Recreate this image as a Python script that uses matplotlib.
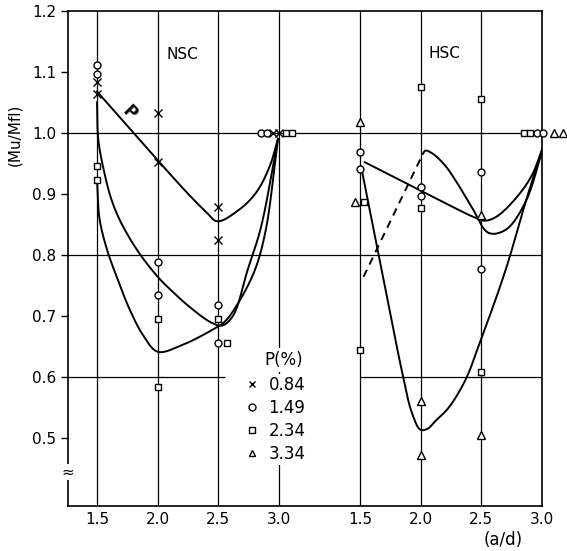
import numpy as np
import matplotlib
matplotlib.use('Agg')
import matplotlib.pyplot as plt
from matplotlib.lines import Line2D

# HSC panel sits to the right of the NSC panel on the same axis
hsc_shift = 2.165

ad_ticks = [1.5, 2.0, 2.5, 3.0]
ad_labels = ['1.5', '2.0', '2.5', '3.0']
mu_ticks = [0.5, 0.6, 0.7, 0.8, 0.9, 1.0, 1.1, 1.2]

ratios = ['0.84', '1.49', '2.34', '3.34']
markers = ['x', 'o', 's', '^']

# test points, NSC beams
nsc_ad_084 = [1.5, 1.5, 2.0, 2.0, 2.5, 2.5, 2.95, 3.0]
nsc_mu_084 = [1.084, 1.064, 1.033, 0.952, 0.879, 0.825, 1.0, 1.0]
nsc_ad_149 = [1.5, 1.5, 2.0, 2.0, 2.5, 2.5, 2.85, 2.90]
nsc_mu_149 = [1.111, 1.097, 0.789, 0.734, 0.718, 0.656, 1.0, 1.0]
nsc_ad_234 = [1.5, 1.5, 2.0, 2.0, 2.5, 2.57, 3.055, 3.105]
nsc_mu_234 = [0.946, 0.923, 0.695, 0.584, 0.695, 0.656, 1.0, 1.0]

# test points, HSC beams
hsc_ad_149 = [1.5, 1.5, 2.0, 2.0, 2.5, 2.5, 2.96, 3.01]
hsc_mu_149 = [0.969, 0.941, 0.911, 0.897, 0.936, 0.777, 1.0, 1.0]
hsc_ad_234 = [1.533, 1.5, 2.0, 2.0, 2.5, 2.5, 2.855, 2.905]
hsc_mu_234 = [0.887, 0.644, 1.075, 0.877, 1.056, 0.608, 1.0, 1.0]
hsc_ad_334 = [1.5, 1.46, 2.0, 2.0, 2.5, 2.5, 3.10, 3.17]
hsc_mu_334 = [1.018, 0.887, 0.561, 0.472, 0.866, 0.505, 1.0, 1.0]

# hand drawn trend curves
nsc_fit_084_ad = [1.5, 2.0, 2.26, 2.40, 2.49, 2.67, 2.81, 2.92, 2.99]
nsc_fit_084_mu = [1.068, 0.955, 0.898, 0.870, 0.855, 0.874, 0.902, 0.944, 0.99]
nsc_fit_149_ad = [1.5, 1.51, 1.56, 1.62, 1.70, 1.84, 2.0, 2.12, 2.26, 2.44, 2.53, 2.62, 2.74, 2.85, 2.99]
nsc_fit_149_mu = [1.05, 0.99, 0.935, 0.89, 0.852, 0.805, 0.764, 0.740, 0.715, 0.689, 0.684, 0.70, 0.775, 0.845, 0.99]
nsc_fit_234_ad = [1.5, 1.52, 1.58, 1.66, 1.77, 1.88, 2.0, 2.2, 2.45, 2.55, 2.66, 2.80, 2.89, 2.99]
nsc_fit_234_mu = [0.923, 0.86, 0.81, 0.765, 0.71, 0.668, 0.641, 0.652, 0.677, 0.69, 0.72, 0.775, 0.841, 0.99]

hsc_fit_a_ad = [1.54, 2.23, 2.45, 2.53, 2.62, 2.75, 2.91, 3.03]
hsc_fit_a_mu = [0.952, 0.882, 0.861, 0.856, 0.862, 0.885, 0.928, 0.99]
hsc_fit_b_ad = [2.02, 2.04, 2.10, 2.20, 2.285, 2.42, 2.56, 2.70, 2.86, 3.03]
hsc_fit_b_mu = [0.966, 0.971, 0.966, 0.947, 0.923, 0.879, 0.836, 0.841, 0.885, 0.99]
hsc_fit_c_ad = [1.51, 1.65, 1.73, 1.84, 1.93, 2.0, 2.06, 2.12, 2.23, 2.37, 2.475, 2.70, 2.87, 3.03]
hsc_fit_c_mu = [0.945, 0.805, 0.725, 0.615, 0.54, 0.513, 0.515, 0.527, 0.549, 0.595, 0.649, 0.775, 0.89, 0.99]
hsc_dash_ad = [1.53, 2.02]
hsc_dash_mu = [0.764, 0.966]


def smooth(xs, ys, n=30):
    # centripetal catmull-rom through the read points (y scaled so both axes ~ same px)
    p = np.column_stack([xs, np.array(ys) * 5.0])
    p = np.vstack([2 * p[0] - p[1], p, 2 * p[-1] - p[-2]])
    pts = []
    for i in range(1, len(p) - 2):
        p0, p1, p2, p3 = p[i - 1], p[i], p[i + 1], p[i + 2]
        t0 = 0.0
        t1 = t0 + np.linalg.norm(p1 - p0) ** 0.5
        t2 = t1 + np.linalg.norm(p2 - p1) ** 0.5
        t3 = t2 + np.linalg.norm(p3 - p2) ** 0.5
        t = np.linspace(t1, t2, n)[:, None]
        a1 = (t1 - t) / (t1 - t0) * p0 + (t - t0) / (t1 - t0) * p1
        a2 = (t2 - t) / (t2 - t1) * p1 + (t - t1) / (t2 - t1) * p2
        a3 = (t3 - t) / (t3 - t2) * p2 + (t - t2) / (t3 - t2) * p3
        b1 = (t2 - t) / (t2 - t0) * a1 + (t - t0) / (t2 - t0) * a2
        b2 = (t3 - t) / (t3 - t1) * a2 + (t - t1) / (t3 - t1) * a3
        c = (t2 - t) / (t2 - t1) * b1 + (t - t1) / (t2 - t1) * b2
        pts.append(c)
    pts = np.vstack(pts)
    return pts[:, 0], pts[:, 1] / 5.0


plt.rcParams['font.family'] = ['DejaVu Sans']

fig = plt.figure(figsize=(5.67, 5.51), dpi=100)
ax = fig.add_axes([68 / 567, 45 / 551, 474 / 567, 495 / 551])

x_lo = 1.261
x_hi = 3.0 + hsc_shift
ax.set_xlim(x_lo, x_hi)
ax.set_ylim(0.388, 1.2)

# grid lines drawn as in the original
for t in ad_ticks:
    ax.axvline(t, color='k', lw=0.9, zorder=1)
    ax.axvline(t + hsc_shift, color='k', lw=0.9, zorder=1)
ax.axhline(1.0, color='k', lw=0.9, zorder=1)
ax.axhline(0.8, color='k', lw=0.9, zorder=1)
ax.hlines(0.6, x_lo, 2.55, color='k', lw=0.9, zorder=1)
ax.hlines(0.6, 1.5 + hsc_shift, 3.0 + hsc_shift, color='k', lw=0.9, zorder=1)

# trend curves
for fx, fy in [(nsc_fit_084_ad, nsc_fit_084_mu), (nsc_fit_149_ad, nsc_fit_149_mu),
               (nsc_fit_234_ad, nsc_fit_234_mu)]:
    cx, cy = smooth(fx, fy)
    ax.plot(cx, cy, color='k', lw=1.4, zorder=2)
for fx, fy in [(hsc_fit_a_ad, hsc_fit_a_mu), (hsc_fit_b_ad, hsc_fit_b_mu),
               (hsc_fit_c_ad, hsc_fit_c_mu)]:
    cx, cy = smooth(fx, fy)
    ax.plot(cx + hsc_shift, cy, color='k', lw=1.4, zorder=2)
ax.plot(np.array(hsc_dash_ad) + hsc_shift, hsc_dash_mu, color='k', lw=1.4,
        ls=(0, (4, 3)), zorder=2)

# test points
mk = dict(ls='none', mec='k', mfc='white', mew=1.0, zorder=4, clip_on=False)
ax.plot(nsc_ad_084, nsc_mu_084, marker='x', ms=6, **mk)
ax.plot(nsc_ad_149, nsc_mu_149, marker='o', ms=5, **mk)
ax.plot(nsc_ad_234, nsc_mu_234, marker='s', ms=5, **mk)
ax.plot(np.array(hsc_ad_149) + hsc_shift, hsc_mu_149, marker='o', ms=5, **mk)
ax.plot(np.array(hsc_ad_234) + hsc_shift, hsc_mu_234, marker='s', ms=5, **mk)
ax.plot(np.array(hsc_ad_334) + hsc_shift, hsc_mu_334, marker='^', ms=5.5, **mk)

# axes cosmetics
ax.set_xticks(ad_ticks + [t + hsc_shift for t in ad_ticks])
ax.set_xticklabels(ad_labels + ad_labels)
ax.set_yticks(mu_ticks)
ax.set_yticklabels(['%.1f' % v for v in mu_ticks])
ax.tick_params(axis='x', length=0, pad=4, labelsize=11)
ax.tick_params(axis='y', direction='out', length=5, width=1, labelsize=11)
for s in ax.spines.values():
    s.set_linewidth(1.2)

# axis break mark on the y axis
ax.text(0, 0.444, '\u2248', transform=ax.get_yaxis_transform(), ha='center',
        va='center', fontsize=11,
        bbox=dict(facecolor='white', edgecolor='none', pad=0.3), zorder=6)

ax.text(2.2, 1.128, 'NSC', ha='center', va='center', fontsize=11)
ax.text(2.2 + hsc_shift, 1.131, 'HSC', ha='center', va='center', fontsize=11)
ax.text(1.77, 1.033, 'P', ha='center', va='center', fontsize=12,
        fontweight='bold', rotation=-45)

fig.text(15 / 567, 1 - 135 / 551, '(Mu/Mfl)', rotation=90, ha='center',
         va='center', fontsize=11)
fig.text(503 / 567, 1 - 540 / 551, '(a/d)', ha='center', va='center', fontsize=12)

# legend
handles = [Line2D([], [], ls='none', marker=m, ms=5, mec='k', mfc='white', mew=1.0)
           for m in markers]
leg = ax.legend(handles, ratios, loc='upper left', bbox_to_anchor=(0.367, 0.266),
                frameon=True, facecolor='white', edgecolor='none', framealpha=1,
                borderpad=0.1, borderaxespad=0, handlelength=1.0, handletextpad=0.5,
                labelspacing=0.3, fontsize=12)
leg.set_zorder(5)
fig.text(264 / 567, 1 - 360 / 551, 'P(%)', fontsize=12, ha='left', va='center',
         zorder=6, bbox=dict(facecolor='white', edgecolor='none', pad=2))

fig.savefig('out.png', dpi=100)
